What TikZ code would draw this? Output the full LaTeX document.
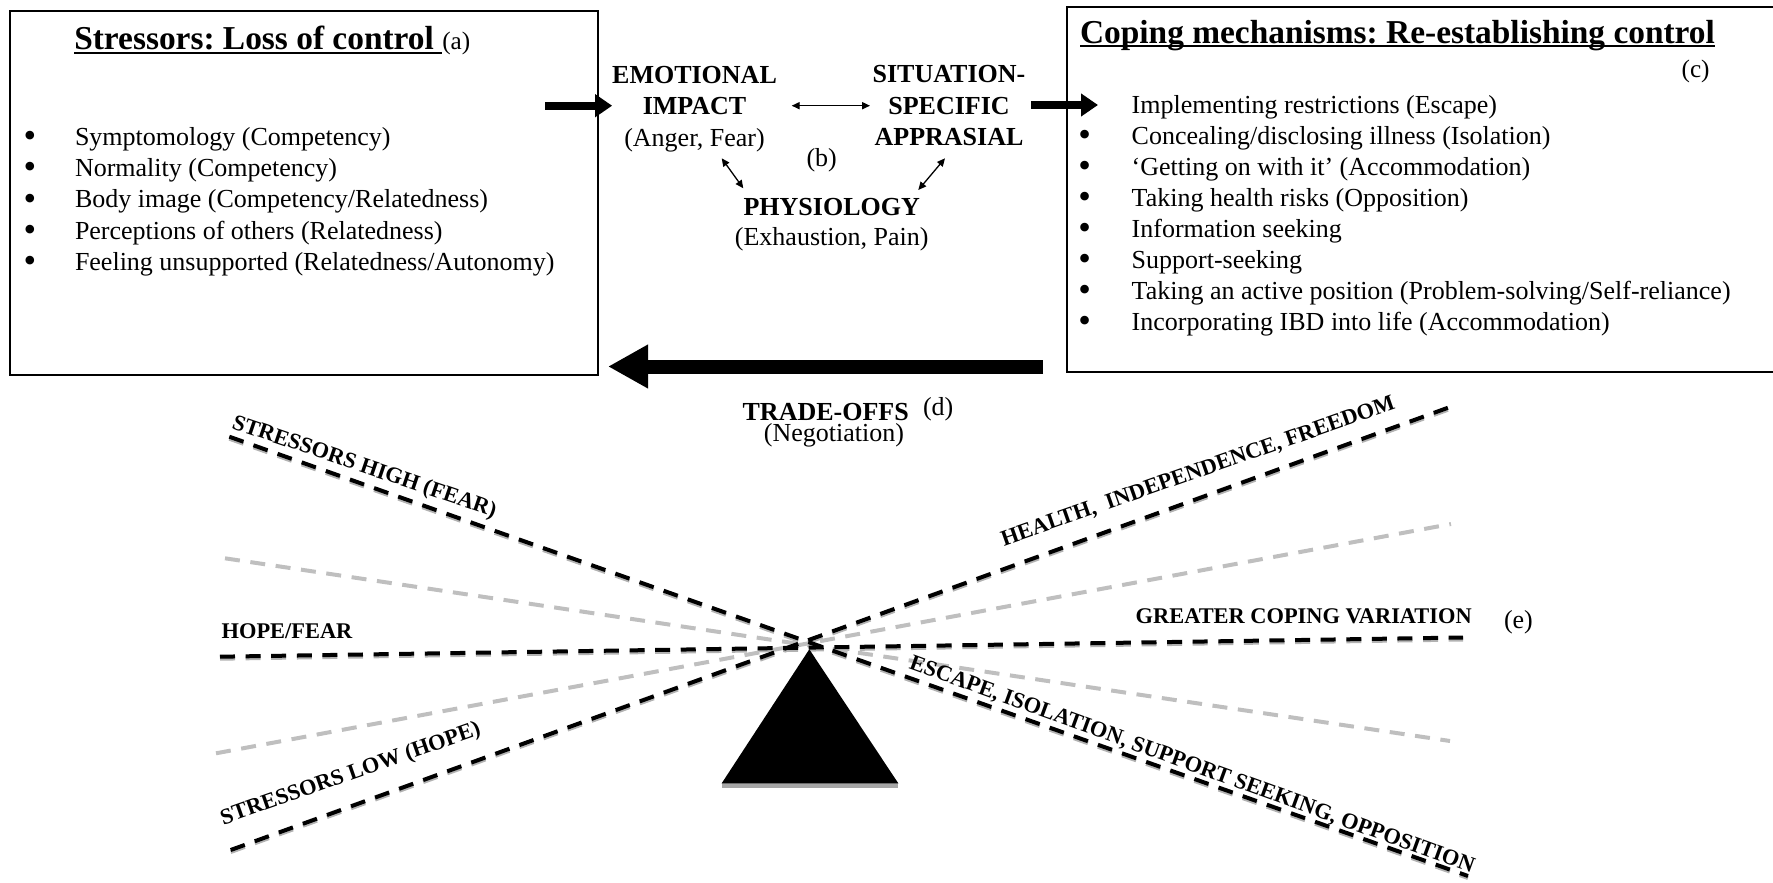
\documentclass[tikz,border=0pt]{standalone}
\usepackage{fontspec}
\usepackage{graphicx}
\setmainfont{Liberation Serif}
\usetikzlibrary{arrows.meta}
\frenchspacing
\newcommand\ulbox[1]{\setbox0=\hbox{#1}\rlap{\rule[-2pt]{\wd0}{0.9pt}}\box0}
\newcommand\blt[1]{\makebox[#1][l]{\raisebox{-1.1pt}{\fontsize{18}{18}\selectfont\textbullet}}}
\begin{document}
\begin{tikzpicture}[x=0.5pt,y=-0.5pt,
  txt/.style={inner sep=0pt, outer sep=0pt},
  ttl/.style={txt, anchor=base west, font=\fontsize{16.7}{20}\selectfont\bfseries},
  lst/.style={txt, anchor=base west, align=left},
  mid/.style={txt, anchor=base, align=center, font=\fontsize{13}{15.85}\selectfont\bfseries},
  plain/.style={txt, font=\fontsize{13}{15}\selectfont},
  lab/.style={txt, anchor=base west, font=\fontsize{11.2}{13}\selectfont\bfseries},
  frame/.style={draw, line width=0.9pt},
  fat/.style={line width=4pt, -{Triangle[length=8.5pt,width=11pt]}},
  big/.style={line width=7pt, -{Triangle[length=20pt,width=20.5pt]}},
  dbl/.style={line width=0.65pt, {Triangle[length=4pt,width=3.6pt]}-{Triangle[length=4pt,width=3.6pt]}},
  blk/.style={line width=2pt, dash pattern=on 7.5pt off 5.3pt},
  gry/.style={blk, color=black!25},
  shd/.style={blk, color=black!30, transform canvas={yshift=-1pt}},
]
\useasboundingbox (0,0) rectangle (1773,883);

% ---------- boxes
\node[frame, txt, anchor=north west, minimum width=294pt, minimum height=182pt] (boxA) at (10,11) {};
\draw[line width=0.9pt] (1773,7) -| (1067,372) -- (1773,372);

% ---------- left box text
\node[ttl] (ttlA) at (74.3,50) {\ulbox{Stressors: Loss of control\ }{\mdseries\fontsize{12.6}{15}\selectfont(a)}};
\node[lst, font=\fontsize{13}{15.7}\selectfont] (listA) at (23.7,270.6) {%
\blt{25.65pt}Symptomology (Competency)\\
\blt{25.65pt}Normality (Competency)\\
\blt{25.65pt}Body image (Competency/Relatedness)\\
\blt{25.65pt}Perceptions of others (Relatedness)\\
\blt{25.65pt}Feeling unsupported (Relatedness/Autonomy)};

% ---------- right box text
\node[ttl] (ttlC) at (1080,43.3) {\ulbox{Coping mechanisms: Re-establishing control}};
\node[txt, anchor=base west, font=\fontsize{12.6}{15}\selectfont] (labc) at (1681.6,78) {(c)};
\node[lst, font=\fontsize{13}{15.5}\selectfont] (listC) at (1078.3,330) {%
\makebox[26.7pt][l]{}Implementing restrictions (Escape)\\
\blt{26.7pt}Concealing/disclosing illness (Isolation)\\
\blt{26.7pt}‘Getting on with it’ (Accommodation)\\
\blt{26.7pt}Taking health risks (Opposition)\\
\blt{26.7pt}Information seeking\\
\blt{26.7pt}Support-seeking\\
\blt{26.7pt}Taking an active position (Problem-solving/Self-reliance)\\
\blt{26.7pt}Incorporating IBD into life (Accommodation)};

% ---------- middle
\node[mid] (emo) at (694.5,146.7) {EMOTIONAL\\IMPACT\\{\mdseries (Anger, Fear)}};
\node[mid] (sit) at (949,146) {SITUATION-\\SPECIFIC\\APPRASIAL};
\node[mid, font=\fontsize{13}{15}\selectfont\bfseries] (phys) at (831.7,245) {PHYSIOLOGY\\{\mdseries (Exhaustion, Pain)}};
\node[plain, anchor=base] (lb) at (821.7,166.7) {(b)};

\coordinate (a1s) at (545,105.7);
\draw[fat] (a1s) -- (emo.west |- a1s);
\coordinate (d1) at (791.7,105.7);
\coordinate (d2) at (870,105.7);
\draw[dbl] (d1) -- (d2);
\coordinate (p1) at (721.7,158.3);
\coordinate (p2) at (743.3,188.3);
\draw[dbl] (p1) -- (p2);
\coordinate (q1) at (945,158.3);
\coordinate (q2) at (918.3,190);
\draw[dbl] (q1) -- (q2);
\coordinate (a2s) at (1031,105);
\coordinate (a2e) at (1098,105);
\draw[fat] (a2s) -- (a2e);

% ---------- trade-offs
\coordinate (bs) at (1043,366.5);
\coordinate (be) at (608,366.5);
\draw[big] (bs) -- (be);
\node[plain, anchor=base, font=\fontsize{13}{15}\selectfont\bfseries] (trade) at (825.7,420) {TRADE-OFFS};
\node[plain, anchor=base west] (ld) at (923,415) {(d)};
\node[plain, anchor=base] (nego) at (834,441) {(Negotiation)};

% ---------- seesaw lines
\coordinate (h1) at (229.3,436.7); \coordinate (h2) at (1468,876);
\coordinate (l1) at (230.7,850);   \coordinate (l2) at (1450,407);
\coordinate (m1) at (220,656.7);   \coordinate (m2) at (1463,637.5);
\coordinate (g1) at (225,558.3);   \coordinate (g2) at (1450,741);
\coordinate (k1) at (216,753.3);   \coordinate (k2) at (1451,524);
\draw[shd] (h1) -- (h2);
\draw[shd] (l1) -- (l2);
\draw[shd] (m1) -- (m2);
\draw[gry] (g1) -- (g2);
\draw[gry] (k1) -- (k2);
\draw[blk] (h1) -- (h2);
\draw[blk] (l1) -- (l2);
\draw[blk] (m1) -- (m2);

% fulcrum
\fill[black!35] (721.7,783.3) rectangle (898.3,787.5);
\fill (809.3,649.3) -- (898.3,783.3) -- (721.7,783.3) -- cycle;

% ---------- seesaw labels
\node[lab, rotate=-18.8] (lhigh) at (231,428) {STRESSORS HIGH (FEAR)};
\node[lab, rotate=19.3] (llow) at (223.3,825) {STRESSORS LOW (HOPE)};
\node[lab] (lhf) at (221.7,638.3) {HOPE/FEAR};
\node[lab, rotate=19.3] (lhealth) at (1004,546) {HEALTH,\ \ INDEPENDENCE, FREEDOM};
\node[lab] (lgreat) at (1135.7,623.3) {GREATER COPING VARIATION};
\node[plain, anchor=base west] (le) at (1504,628.3) {(e)};
\node[lab, rotate=-20] (lesc) at (908.4,668.3) {ESCAPE, ISOLATION, SUPPORT SEEKING, OPPOSITION};
\end{tikzpicture}
\end{document}
